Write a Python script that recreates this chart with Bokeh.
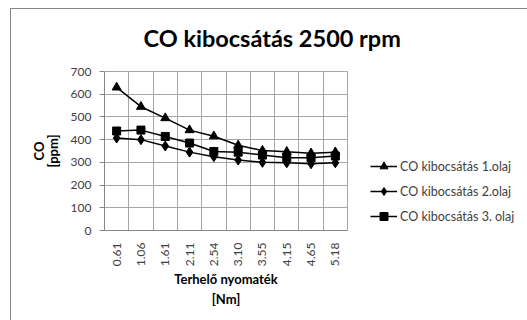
import math
from bokeh.plotting import figure
from bokeh.models import (Range1d, FixedTicker, CustomJSTickFormatter, Legend, LegendItem, Title)
from bokeh.embed import file_html
from bokeh.resources import INLINE

categories = ["0.61", "1.06", "1.61", "2.11", "2.54", "3.10", "3.55", "4.15", "4.65", "5.18"]
series1 = [630, 545, 495, 442, 415, 375, 352, 347, 340, 345]
series2 = [407, 400, 372, 345, 325, 310, 300, 298, 294, 298]
series3 = [438, 442, 414, 385, 348, 345, 332, 320, 320, 328]
names = ["CO kibocsátás 1.olaj", "CO kibocsátás 2.olaj", "CO kibocsátás 3. olaj"]
y_ticks = [0, 100, 200, 300, 400, 500, 600, 700]

FONT = "Lato"
GRID = "#a6a6a6"
TXT = "#404040"

xs = [i + 0.5 for i in range(len(categories))]

p = figure(frame_width=243, frame_height=159, output_backend="svg", toolbar_location=None,
           x_range=Range1d(0, len(categories)), y_range=Range1d(0, 700),
           min_border_left=104, min_border_right=180, min_border_top=71, min_border_bottom=90)
p.background_fill_color = "white"
p.border_fill_alpha = 0
p.outline_line_color = GRID
p.styles = {"background-color": "white",
            "box-shadow": "inset 10px 8px 0 0 white, inset 11px 9px 0 0 #868686"}

p.title = Title(text="CO kibocsátás 2500 rpm", align="left", offset=39, standoff=40,
                text_font=FONT, text_font_size="23.5px", text_font_style="bold", text_color="black")

# axes
xa = p.xaxis[0]
xa.ticker = FixedTicker(ticks=xs)
xa.formatter = CustomJSTickFormatter(args=dict(labels=categories),
                                     code="return labels[Math.floor(tick)];")
xa.major_label_orientation = math.pi / 2
xa.major_tick_line_color = None
xa.minor_tick_line_color = None
xa.axis_line_color = "#888888"
xa.major_label_text_font = FONT
xa.major_label_text_font_size = "12px"
xa.major_label_text_color = TXT
xa.major_label_standoff = 6
xa.axis_label = "Terhelő nyomaték\n[Nm]"
xa.axis_label_text_font = FONT
xa.axis_label_text_font_size = "13px"
xa.axis_label_text_font_style = "bold"
xa.axis_label_text_color = "black"
xa.axis_label_text_line_height = 1.25
xa.axis_label_standoff = 2

ya = p.yaxis[0]
ya.ticker = FixedTicker(ticks=y_ticks)
ya.minor_tick_line_color = None
ya.major_tick_in = 0
ya.major_tick_out = 5
ya.major_tick_line_color = "#888888"
ya.axis_line_color = "#888888"
ya.major_label_text_font = FONT
ya.major_label_text_font_size = "12px"
ya.major_label_text_color = TXT
ya.major_label_standoff = 8
ya.axis_label = "CO\n[ppm]"
ya.axis_label_text_font = FONT
ya.axis_label_text_font_size = "13px"
ya.axis_label_text_font_style = "bold"
ya.axis_label_text_color = "black"
ya.axis_label_text_line_height = 0.85
ya.axis_label_standoff = 7

p.xgrid.ticker = FixedTicker(ticks=[i + 1 for i in range(len(categories))])
p.xgrid.grid_line_color = GRID
p.ygrid.ticker = FixedTicker(ticks=y_ticks)
p.ygrid.grid_line_color = GRID

items = []
markers = ["triangle", "diamond", "square"]
sizes = [9, 10, 8]
for ys, m, s, n in zip([series1, series2, series3], markers, sizes, names):
    r1 = p.line(xs, ys, line_color="black", line_width=1.5)
    r2 = p.scatter(xs, ys, marker=m, size=s, fill_color="black", line_color="black")
    items.append(LegendItem(label=n, renderers=[r1, r2]))

legend = Legend(items=items, location=(23, 4), orientation="vertical",
                border_line_color=None, background_fill_alpha=0, padding=0, margin=0,
                spacing=5, glyph_width=27, glyph_height=20, label_height=20,
                label_standoff=3, label_text_font=FONT, label_text_font_size="12.5px",
                label_text_color=TXT)
p.add_layout(legend, "right")

open("out.html", "w").write(file_html(p, INLINE))
